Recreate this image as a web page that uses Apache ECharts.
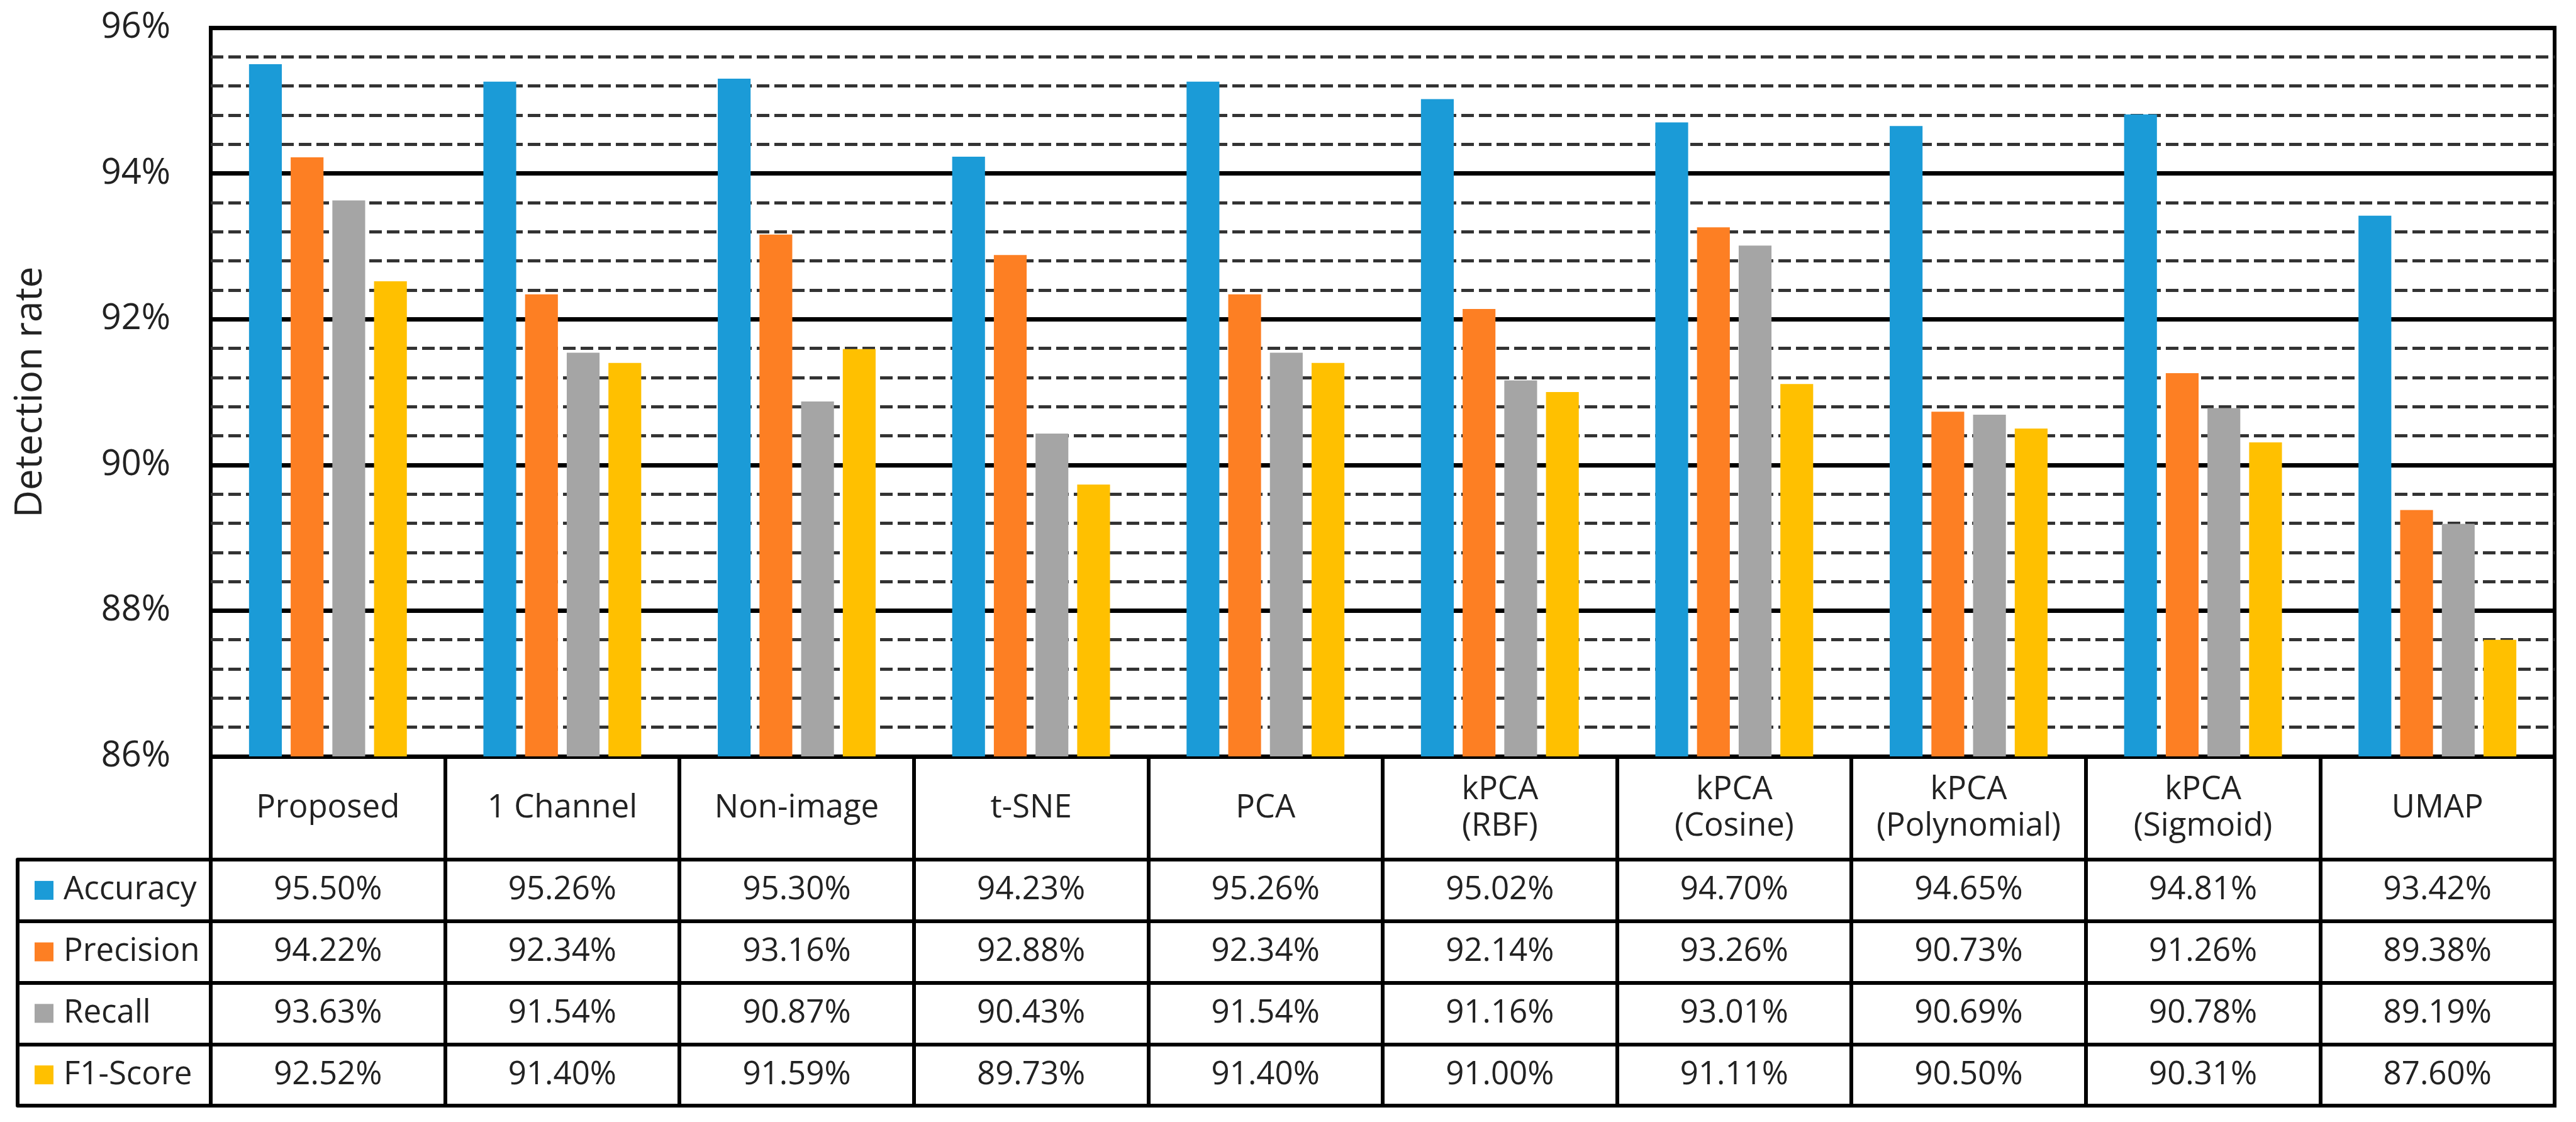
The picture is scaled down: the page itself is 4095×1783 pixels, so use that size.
<!DOCTYPE html>
<html>
<head>
<meta charset="utf-8">
<script src="https://cdn.jsdelivr.net/npm/echarts@6/dist/echarts.min.js"></script>
<style>
html,body{margin:0;padding:0;background:#fff;}
#chart{width:4095px;height:1783px;}
</style>
</head>
<body>
<div id="chart"></div>
<script>
const categories = ['Proposed','1 Channel','Non-image','t-SNE','PCA','kPCA\n(RBF)','kPCA\n(Cosine)','kPCA\n(Polynomial)','kPCA\n(Sigmoid)','UMAP'];
const seriesNames = ['Accuracy','Precision','Recall','F1-Score'];
const accuracy  = [95.50, 95.26, 95.30, 94.23, 95.26, 95.02, 94.70, 94.65, 94.81, 93.42];
const precision = [94.22, 92.34, 93.16, 92.88, 92.34, 92.14, 93.26, 90.73, 91.26, 89.38];
const recall    = [93.63, 91.54, 90.87, 90.43, 91.54, 91.16, 93.01, 90.69, 90.78, 89.19];
const f1score   = [92.52, 91.40, 91.59, 89.73, 91.40, 91.00, 91.11, 90.50, 90.31, 87.60];
const yTicks = [86, 88, 90, 92, 94, 96];
const colors = ['#1b9bd7', '#fd7f23', '#a5a5a5', '#ffc000'];

const allSeries = [accuracy, precision, recall, f1score];
const FONT = '"Open Sans", "Noto Sans", sans-serif';
const TXT = '#222222';
const LW = 6;

const tableData = [];
allSeries.forEach((arr, r) => arr.forEach((v, c) => tableData.push([c, r, v])));

const rich = { t: { fontSize: 51, fontFamily: FONT, color: TXT, padding: [0, 0, 0, 16] } };
colors.forEach((c, i) => { rich['s' + i] = { width: 30, height: 30, backgroundColor: c }; });

const GL = 335, GW = 3726;

const chart = echarts.init(document.getElementById('chart'));
chart.setOption({
  backgroundColor: '#ffffff',
  animation: false,
  grid: [
    { left: GL, top: 44, width: GW, height: 1158, show: true, borderColor: '#000', borderWidth: LW, z: 0 },
    { left: GL, top: 1366, width: GW, height: 391, show: true, borderColor: '#000', borderWidth: LW, z: 0 }
  ],
  xAxis: [
    {
      type: 'category', gridIndex: 0, data: categories, boundaryGap: true,
      axisLine: { show: false },
      axisTick: { show: true, interval: 0, length: 164, alignWithLabel: false, lineStyle: { color: '#000', width: LW } },
      axisLabel: { interval: 0, margin: 82, verticalAlign: 'middle', fontSize: 51, lineHeight: 58, fontFamily: FONT, color: TXT },
      splitLine: { show: false }
    },
    {
      type: 'category', gridIndex: 1, data: categories, boundaryGap: true,
      axisLine: { show: false }, axisTick: { show: false }, axisLabel: { show: false },
      splitLine: { show: true, interval: 0, lineStyle: { color: '#000', width: LW } }
    }
  ],
  yAxis: [
    {
      type: 'value', gridIndex: 0, min: 86, max: 96, interval: 2, z: 1,
      name: 'Detection rate', nameLocation: 'middle', nameGap: 256,
      nameTextStyle: { fontSize: 60, fontFamily: FONT, color: TXT },
      axisLine: { show: false }, axisTick: { show: false },
      axisLabel: { formatter: '{value}%', margin: 64, fontSize: 56, fontFamily: FONT, color: TXT },
      splitLine: { show: true, lineStyle: { color: '#000', width: 7, type: 'solid' } }
    },
    {
      type: 'value', gridIndex: 0, min: 86, max: 96, interval: 0.4, z: 0,
      axisLine: { show: false }, axisTick: { show: false }, axisLabel: { show: false },
      splitLine: { show: true, lineStyle: { color: '#333333', width: 5, type: [20, 8] } }
    },
    {
      type: 'category', gridIndex: 1, data: seriesNames, inverse: true, boundaryGap: true,
      axisLine: { show: true, lineStyle: { color: '#000', width: LW } },
      axisTick: { show: true, interval: 0, length: 307, alignWithLabel: false, lineStyle: { color: '#000', width: LW } },
      axisLabel: {
        interval: 0, align: 'left', margin: 280,
        formatter: (v, i) => '{s' + i + '|}{t|' + v + '}',
        rich: rich
      },
      splitLine: { show: true, interval: 0, lineStyle: { color: '#000', width: LW } }
    },
    {
      type: 'category', gridIndex: 1, data: seriesNames, inverse: true, position: 'left', offset: 307,
      axisLine: { show: true, lineStyle: { color: '#000', width: LW } },
      axisTick: { show: false }, axisLabel: { show: false }, splitLine: { show: false }
    }
  ],
  series: allSeries.map((arr, i) => ({
    type: 'bar', name: seriesNames[i], xAxisIndex: 0, yAxisIndex: 0, data: arr,
    barWidth: '14%', barGap: '27%', z: 3,
    itemStyle: { color: colors[i] }
  })).concat([{
    type: 'custom', xAxisIndex: 1, yAxisIndex: 2, data: tableData, z: 4,
    renderItem: function (params, api) {
      const p = api.coord([api.value(0), api.value(1)]);
      return {
        type: 'text', x: p[0], y: p[1],
        style: {
          text: api.value(2).toFixed(2) + '%',
          align: 'center', verticalAlign: 'middle',
          fontSize: 51, fontFamily: FONT, fill: TXT
        }
      };
    }
  }])
});
</script>
</body>
</html>
